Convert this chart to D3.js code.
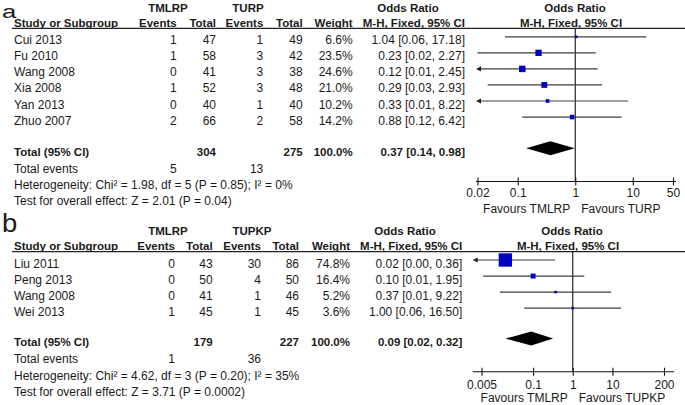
<!DOCTYPE html>
<html><head><meta charset="utf-8">
<script src="https://cdn.jsdelivr.net/npm/d3@7"></script>
<style>
html,body{margin:0;padding:0;background:#fff;}
svg{display:block;}
text{font-family:"Liberation Sans",Arial,sans-serif;fill:#1a1a1a;}
</style>
</head><body>
<svg id="c" width="685" height="405"></svg>
<script>
// ---------- Panel a data ----------
const studiesA = ["Cui 2013","Fu 2010","Wang 2008","Xia 2008","Yan 2013","Zhuo 2007"];
const eventsExpA = [1,1,0,1,0,2];
const totalExpA  = [47,58,41,52,40,66];
const eventsCtlA = [1,3,3,3,1,2];
const totalCtlA  = [49,42,38,48,40,58];
const weightA    = [6.6,23.5,24.6,21.0,10.2,14.2];
const orA        = [1.04,0.23,0.12,0.29,0.33,0.88];
const lowA       = [0.06,0.02,0.01,0.03,0.01,0.12];
const highA      = [17.18,2.27,2.45,2.93,8.22,6.42];
const totalsA    = [304,275];
const pooledA    = [0.37,0.14,0.98];
const totEventsA = [5,13];
const hetA  = "Heterogeneity: Chi\u00B2 = 1.98, df = 5 (P = 0.85); I\u00B2 = 0%";
const testA = "Test for overall effect: Z = 2.01 (P = 0.04)";
const ticksA = [0.02,0.1,1,10,50];
const tickLabelsA = ["0.02","0.1","1","10","50"];
const groupsA = ["TMLRP","TURP"];

// ---------- Panel b data ----------
const studiesB = ["Liu 2011","Peng 2013","Wang 2008","Wei 2013"];
const eventsExpB = [0,0,0,1];
const totalExpB  = [43,50,41,45];
const eventsCtlB = [30,4,1,1];
const totalCtlB  = [86,50,46,45];
const weightB    = [74.8,16.4,5.2,3.6];
const orB        = [0.02,0.10,0.37,1.00];
const lowB       = [0.004,0.0055,0.0145,0.06];
const highB      = [0.36,1.95,9.22,16.50];
const totalsB    = [179,227];
const pooledB    = [0.09,0.02,0.32];
const totEventsB = [1,36];
const hetB  = "Heterogeneity: Chi\u00B2 = 4.62, df = 3 (P = 0.20); I\u00B2 = 35%";
const testB = "Test for overall effect: Z = 3.71 (P = 0.0002)";
const ticksB = [0.005,0.1,1,10,200];
const tickLabelsB = ["0.005","0.1","1","10","200"];
const groupsB = ["TMLRP","TUPKP"];

const svg = d3.select("#c");
const sizeScale = d3.scalePow().exponent(0.65).domain([0,100]).range([0,16.1]);

function txt(g, x, y, s, anchor, bold, size) {
  return g.append("text").attr("x", x).attr("y", y).attr("dy", "0.35em")
    .attr("text-anchor", anchor || "start")
    .attr("font-weight", bold ? "bold" : "normal")
    .attr("font-size", size || (bold ? 11.5 : 12))
    .text(s);
}

function drawPanel(p) {
  const g = svg.append("g");
  const x = d3.scaleLog().domain(p.domain).range(p.range);
  const c = p.cols;
  // panel label
  g.append("text").attr("transform", `translate(2,${p.labelY}) scale(${p.labelSx},1)`)
    .attr("font-size", p.labelSize).text(p.label);
  // group headers
  txt(g, p.grpX[0], p.grpY, p.groups[0], "middle", true);
  txt(g, p.grpX[1], p.grpY, p.groups[1], "middle", true);
  txt(g, p.orHeadX, p.grpY, "Odds Ratio", "middle", true);
  txt(g, p.plotHeadX, p.grpY, "Odds Ratio", "middle", true);
  // column headers
  const hy = p.lineY - 5.3;
  txt(g, 14, hy, "Study or Subgroup", "start", true);
  txt(g, c[0], hy, "Events", "end", true);
  txt(g, c[1], hy, "Total", "end", true);
  txt(g, c[2], hy, "Events", "end", true);
  txt(g, c[3], hy, "Total", "end", true);
  txt(g, c[4], hy, "Weight", "end", true);
  txt(g, c[5], hy, "M-H, Fixed, 95% CI", "end", true);
  txt(g, p.plotHeadX - 4, hy, "M-H, Fixed, 95% CI", "middle", true);
  g.append("line").attr("x1", 12).attr("x2", 685).attr("y1", p.lineY).attr("y2", p.lineY)
    .attr("stroke", "#222").attr("stroke-width", 1.2);

  // null line
  g.append("line").attr("x1", x(1)).attr("x2", x(1)).attr("y1", p.lineY).attr("y2", p.axisY)
    .attr("stroke", "#111").attr("stroke-width", 1.1);

  const [plotL, plotR] = p.plot;
  p.studies.forEach((s, i) => {
    const y = p.row0 + i * p.rowStep;
    const yt = y + 3.3;
    txt(g, 14, yt, s, "start");
    txt(g, c[0], yt, p.evE[i], "end");
    txt(g, c[1], yt, p.totE[i], "end");
    txt(g, c[2], yt, p.evC[i], "end");
    txt(g, c[3], yt, p.totC[i], "end");
    txt(g, c[4], yt, p.w[i].toFixed(1) + "%", "end");
    txt(g, c[5], yt, p.or[i].toFixed(2) + " [" + p.lo[i].toFixed(2) + ", " + p.hi[i].toFixed(2) + "]", "end");
    // CI line
    const leftArrow = p.lo[i] < p.domain[0];
    const rightArrow = p.hi[i] > p.domain[1];
    const x1 = leftArrow ? plotL : x(p.lo[i]);
    const x2 = rightArrow ? plotR : x(p.hi[i]);
    g.append("line").attr("x1", x1 + (leftArrow ? 3 : 0)).attr("x2", x2 - (rightArrow ? 3 : 0))
      .attr("y1", y).attr("y2", y).attr("stroke", "#3c3c3c").attr("stroke-width", 1.2);
    if (leftArrow) {
      g.append("path").attr("d", `M${plotL},${y} L${plotL + 5},${y - 2.6} L${plotL + 5},${y + 2.6} Z`).attr("fill", "#222");
    }
    if (rightArrow) {
      g.append("path").attr("d", `M${plotR},${y} L${plotR - 5},${y - 2.6} L${plotR - 5},${y + 2.6} Z`).attr("fill", "#222");
    }
    const sz = Math.max(2.6, sizeScale(p.w[i]));
    g.append("rect").attr("x", x(p.or[i]) - sz / 2).attr("y", y - sz / 2)
      .attr("width", sz).attr("height", sz).attr("fill", "#0000c4");
  });

  // total row
  const ty = p.totalY;
  txt(g, 14, ty, "Total (95% CI)", "start", true);
  txt(g, c[1], ty, p.totals[0], "end", true);
  txt(g, c[3], ty, p.totals[1], "end", true);
  txt(g, c[4], ty, "100.0%", "end", true);
  txt(g, c[5], ty, p.pooled[0].toFixed(2) + " [" + p.pooled[1].toFixed(2) + ", " + p.pooled[2].toFixed(2) + "]", "end", true);
  const dy = ty - 3.3;
  g.append("polygon").attr("points", [
    [x(p.pooled[1]), dy], [x(p.pooled[0]), dy - 7], [x(p.pooled[2]), dy], [x(p.pooled[0]), dy + 7]
  ].map(d => d.join(",")).join(" ")).attr("fill", "#000");

  txt(g, 14, p.evY, "Total events", "start");
  txt(g, c[0], p.evY, p.totEv[0], "end");
  txt(g, c[2], p.evY, p.totEv[1], "end");
  txt(g, 14, p.evY + 16.3, p.het, "start");
  txt(g, 14, p.evY + 32.6, p.test, "start");

  // axis
  g.append("line").attr("x1", plotL).attr("x2", plotR).attr("y1", p.axisY).attr("y2", p.axisY)
    .attr("stroke", "#111").attr("stroke-width", 1.1);
  const ax = g.append("g").attr("transform", `translate(0,${p.axisY - 4})`)
    .call(d3.axisBottom(x).tickValues(p.ticks).tickSizeInner(8).tickSizeOuter(0)
      .tickFormat((d, i) => p.tickLabels[i]));
  ax.select(".domain").remove();
  ax.selectAll(".tick line").attr("stroke", "#111").attr("stroke-width", 1.1);
  ax.selectAll(".tick text").attr("y", p.tickLabDy).attr("dy", "0.35em")
    .attr("font-size", 12).attr("font-family", "Liberation Sans, Arial, sans-serif").attr("fill", "#1a1a1a");
  txt(g, x(1) - 5, p.favY, "Favours " + p.groups[0], "end");
  txt(g, x(1) + 6, p.favY, "Favours " + p.groups[1], "start");
}

drawPanel({
  label: "a", labelY: 17.6, labelSize: 19, labelSx: 1.35,
  groups: groupsA, grpX: [168, 248], grpY: 7.5,
  orHeadX: 408, plotHeadX: 575,
  cols: [176.7, 216, 263.3, 302.7, 352.7, 465],
  lineY: 28.4,
  studies: studiesA, evE: eventsExpA, totE: totalExpA, evC: eventsCtlA, totC: totalCtlA,
  w: weightA, or: orA, lo: lowA, hi: highA,
  row0: 36.8, rowStep: 16.05,
  totalY: 151.6, totals: totalsA, pooled: pooledA,
  evY: 168.3, totEv: totEventsA, het: hetA, test: testA,
  domain: [0.02, 50], range: [477.5, 673], plot: [476, 676],
  axisY: 181.5, ticks: ticksA, tickLabels: tickLabelsA, tickLabDy: 15.5, favY: 208.3
});

drawPanel({
  label: "b", labelY: 232, labelSize: 25, labelSx: 1.1,
  groups: groupsB, grpX: [168, 252], grpY: 230.5,
  orHeadX: 405, plotHeadX: 572,
  cols: [175, 212.7, 261, 299, 350, 462.3],
  lineY: 251.7,
  studies: studiesB, evE: eventsExpB, totE: totalExpB, evC: eventsCtlB, totC: totalCtlB,
  w: weightB, or: orB, lo: lowB, hi: highB,
  row0: 260, rowStep: 16.05,
  totalY: 341.9, totals: totalsB, pooled: pooledB,
  evY: 359.2, totEv: totEventsB, het: hetB, test: testB,
  domain: [0.005, 200], range: [481.5, 664], plot: [472.7, 674],
  axisY: 371.7, ticks: ticksB, tickLabels: tickLabelsB, tickLabDy: 17, favY: 397.5
});
</script>
</body></html>
